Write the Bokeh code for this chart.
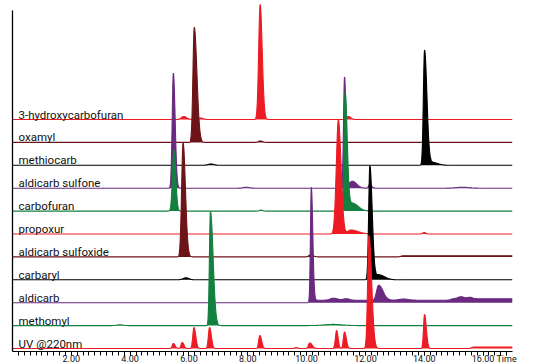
import numpy as np
from bokeh.plotting import figure
from bokeh.models import Range1d, FixedTicker, PrintfTickFormatter
from bokeh.core.properties import value
from bokeh.embed import file_html
from bokeh.resources import INLINE

# ---- data (time in min, heights in display units) ----
trace_names = ["3-hydroxycarbofuran", "oxamyl", "methiocarb", "aldicarb sulfone",
               "carbofuran", "propoxur", "aldicarb sulfoxide", "carbaryl",
               "aldicarb", "methomyl", "UV @220nm"]
trace_colors = ["#ED1C24", "#6D1418", "#000000", "#6A2A80", "#13803F", "#ED1C24",
                "#6D1418", "#000000", "#6A2A80", "#13803F", "#ED1C24"]

# peaks per trace: retention time, height, left width, right width
rt_hydroxycarbofuran = [5.82, 6.40, 8.42, 11.42]
h_hydroxycarbofuran = [3.0, 1.5, 115.0, 3.0]
wl_hydroxycarbofuran = [0.08, 0.06, 0.05, 0.06]
wr_hydroxycarbofuran = [0.10, 0.08, 0.07, 0.08]

rt_oxamyl = [6.18, 8.42, 14.0]
h_oxamyl = [115.0, 1.5, 1.0]
wl_oxamyl = [0.045, 0.06, 0.05]
wr_oxamyl = [0.09, 0.08, 0.05]

rt_methiocarb = [6.75, 14.01, 14.25]
h_methiocarb = [1.3, 115.0, 3.0]
wl_methiocarb = [0.10, 0.04, 0.10]
wr_methiocarb = [0.10, 0.08, 0.20]

rt_aldicarb_sulfone = [5.47, 7.95, 11.29, 11.55, 12.15, 15.3]
h_aldicarb_sulfone = [115.0, 1.0, 111.0, 7.0, 4.0, 1.0]
wl_aldicarb_sulfone = [0.04, 0.10, 0.035, 0.10, 0.04, 0.20]
wr_aldicarb_sulfone = [0.06, 0.10, 0.05, 0.15, 0.06, 0.20]

rt_carbofuran = [5.49, 8.45, 11.31, 11.55]
h_carbofuran = [61.0, 1.0, 119.0, 8.0]
wl_carbofuran = [0.05, 0.05, 0.04, 0.10]
wr_carbofuran = [0.06, 0.05, 0.07, 0.20]

rt_propoxur = [11.08, 11.50, 14.0]
h_propoxur = [114.0, 4.0, 1.5]
wl_propoxur = [0.07, 0.10, 0.05]
wr_propoxur = [0.09, 0.25, 0.05]

rt_aldicarb_sulfoxide = [5.80, 10.12]
h_aldicarb_sulfoxide = [114.0, 2.0]
wl_aldicarb_sulfoxide = [0.05, 0.05]
wr_aldicarb_sulfoxide = [0.08, 0.10]

rt_carbaryl = [5.90, 12.15, 12.45]
h_carbaryl = [2.0, 114.0, 5.0]
wl_carbaryl = [0.10, 0.04, 0.10]
wr_carbaryl = [0.10, 0.08, 0.20]

rt_aldicarb = [10.16, 10.9, 11.35, 12.45, 13.3, 15.25, 15.55]
h_aldicarb = [115.0, 2.0, 1.5, 15.0, 1.2, 2.0, 1.5]
wl_aldicarb = [0.03, 0.10, 0.10, 0.07, 0.15, 0.10, 0.08]
wr_aldicarb = [0.05, 0.15, 0.10, 0.15, 0.15, 0.10, 0.08]

rt_methomyl = [3.65, 6.73, 10.9]
h_methomyl = [0.8, 114.0, 1.2]
wl_methomyl = [0.10, 0.035, 0.30]
wr_methomyl = [0.10, 0.09, 0.30]

rt_uv = [5.47, 5.77, 6.17, 6.70, 8.41, 9.65, 10.11, 11.02, 11.29, 12.12, 14.01]
h_uv = [5.0, 6.0, 21.0, 21.0, 13.0, 1.0, 5.5, 18.0, 16.5, 113.0, 34.0]
wl_uv = [0.04, 0.04, 0.04, 0.04, 0.04, 0.05, 0.05, 0.04, 0.04, 0.045, 0.035]
wr_uv = [0.06, 0.06, 0.06, 0.06, 0.06, 0.05, 0.08, 0.05, 0.06, 0.09, 0.06]

# baseline shifts (start time, level)
shift_start_aldicarb = [10.22, 14.9]
shift_level_aldicarb = [2.5, 1.5]
shift_start_aldicarb_sulfoxide = [13.2]
shift_level_aldicarb_sulfoxide = [1.2]
shift_start_uv = [15.6]
shift_level_uv = [1.5]

x_ticks = [2, 4, 6, 8, 10, 12, 14, 16]

peaks = [
    (rt_hydroxycarbofuran, h_hydroxycarbofuran, wl_hydroxycarbofuran, wr_hydroxycarbofuran),
    (rt_oxamyl, h_oxamyl, wl_oxamyl, wr_oxamyl),
    (rt_methiocarb, h_methiocarb, wl_methiocarb, wr_methiocarb),
    (rt_aldicarb_sulfone, h_aldicarb_sulfone, wl_aldicarb_sulfone, wr_aldicarb_sulfone),
    (rt_carbofuran, h_carbofuran, wl_carbofuran, wr_carbofuran),
    (rt_propoxur, h_propoxur, wl_propoxur, wr_propoxur),
    (rt_aldicarb_sulfoxide, h_aldicarb_sulfoxide, wl_aldicarb_sulfoxide, wr_aldicarb_sulfoxide),
    (rt_carbaryl, h_carbaryl, wl_carbaryl, wr_carbaryl),
    (rt_aldicarb, h_aldicarb, wl_aldicarb, wr_aldicarb),
    (rt_methomyl, h_methomyl, wl_methomyl, wr_methomyl),
    (rt_uv, h_uv, wl_uv, wr_uv),
]
shifts = {8: (shift_start_aldicarb, shift_level_aldicarb),
          6: (shift_start_aldicarb_sulfoxide, shift_level_aldicarb_sulfoxide),
          10: (shift_start_uv, shift_level_uv)}

t = np.linspace(0, 17, 3401)


def signal(rts, hs, wl, wr, shift=None):
    y = np.zeros_like(t)
    for r, h, a, b in zip(rts, hs, wl, wr):
        s = np.where(t < r, a, b)
        y += h * np.exp(-0.5 * ((t - r) / s) ** 2)
    if shift:
        for st, lv in zip(*shift):
            y += lv / (1 + np.exp(-(t - st) / 0.03))
    return y


FONT = value("Roboto")

p = figure(frame_width=500, frame_height=351, x_range=Range1d(0, 17), y_range=Range1d(0, 351),
           output_backend="svg", toolbar_location=None,
           min_border_left=12, min_border_right=27, min_border_top=0, min_border_bottom=0)
p.outline_line_color = None
p.xgrid.visible = False
p.ygrid.visible = False
p.background_fill_color = "white"

# layout of the stacked traces (screen px in data units)
top_base = 232.0
spacing = 22.9

for i, (name, col) in enumerate(zip(trace_names, trace_colors)):
    base = top_base - i * spacing
    y = signal(*peaks[i], shifts.get(i))
    p.varea(x=t, y1=np.full_like(t, base), y2=base + y, fill_color=col, fill_alpha=1.0)
    p.line(t, base + y, line_color=col, line_width=1.1)
    p.text(x=[0], y=[base + 5], text=[name], x_offset=6, text_font=FONT, text_font_size="11.5px",
           text_baseline="alphabetic", text_color="#111111")

ticks = x_ticks + [16.8]
p.xaxis.ticker = FixedTicker(ticks=ticks, minor_ticks=[round(v * 0.2, 1) for v in range(1, 85)])
p.xaxis.formatter = PrintfTickFormatter(format="%.2f")
p.xaxis.major_label_overrides = {16.8: "Time"}
p.xaxis.major_label_text_font = "Roboto"
p.xaxis.major_label_text_font_size = "9px"
p.xaxis.major_label_text_color = "#111111"
p.xaxis.major_label_standoff = -2
p.xaxis.major_tick_out = 4
p.xaxis.major_tick_in = 0
p.xaxis.minor_tick_out = 4
p.xaxis.minor_tick_in = 0
p.xaxis.axis_line_width = 1.2
p.xaxis.major_tick_line_width = 1
p.xaxis.minor_tick_line_width = 1

p.yaxis.ticker = FixedTicker(ticks=[])
p.yaxis.major_label_text_font_size = "0px"
p.yaxis.major_tick_out = 0
p.yaxis.minor_tick_out = 0
p.yaxis.major_label_standoff = 0
p.yaxis.bounds = (0, 341)
p.yaxis.axis_line_width = 1.3

open("out.html", "w").write(file_html(p, INLINE))
